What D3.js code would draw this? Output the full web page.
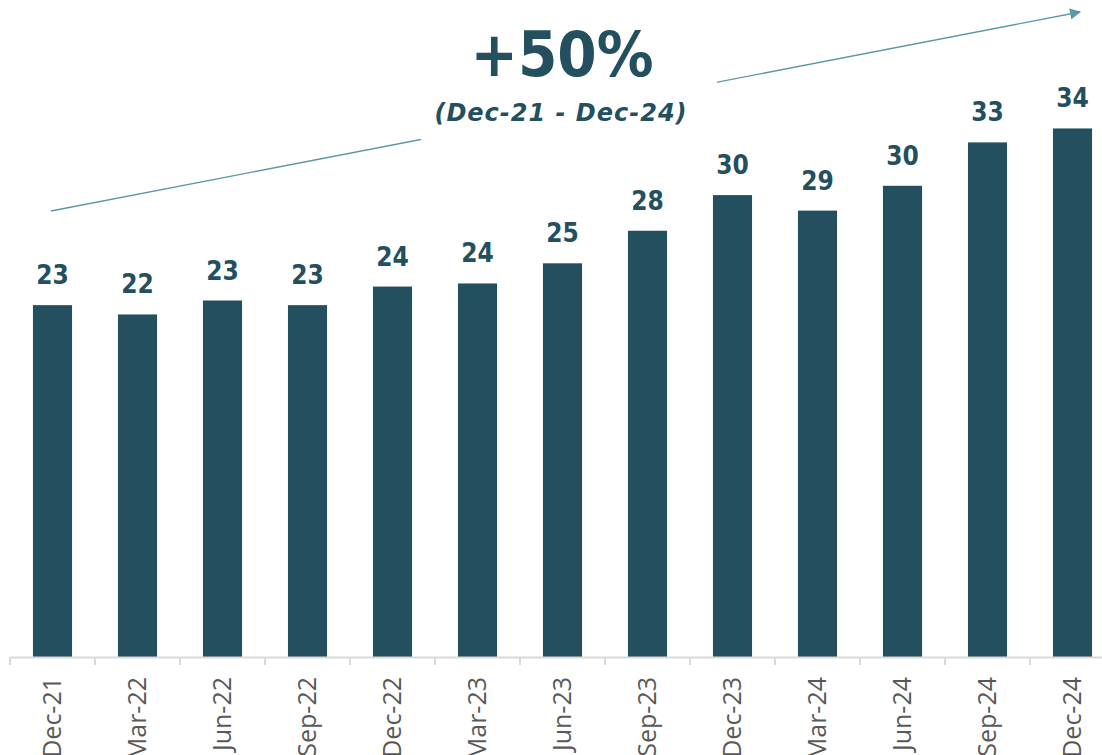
<!DOCTYPE html>
<html>
<head>
<meta charset="utf-8">
<script src="https://cdn.jsdelivr.net/npm/d3@7"></script>
<style>
  body { margin: 0; background: #fff; overflow: hidden; }
  .val { font-family: "DejaVu Sans Condensed", "DejaVu Sans", sans-serif; font-stretch: condensed; font-weight: bold; fill: #234F5E; }
  .sub { font-family: "DejaVu Sans", sans-serif; font-weight: bold; font-style: italic; fill: #234F5E; }
  .tick text { font-family: "Open Sans", sans-serif; fill: #595959; }
</style>
</head>
<body>
<div id="chart"></div>
<script>
// quarterly values
var quarters = ["Dec-21","Mar-22","Jun-22","Sep-22","Dec-22","Mar-23","Jun-23","Sep-23","Dec-23","Mar-24","Jun-24","Sep-24","Dec-24"];
var values = [22.7, 22.1, 23.0, 22.7, 23.9, 24.1, 25.4, 27.5, 29.8, 28.8, 30.4, 33.2, 34.1];
var growthLabel = "+50%";
var periodLabel = "(Dec-21 - Dec-24)";

var W = 1102, H = 755;
var baseY = 657;

var svg = d3.select("#chart").append("svg")
  .attr("width", W)
  .attr("height", H);

var x = d3.scaleBand()
  .domain(quarters)
  .range([10, 1115])
  .paddingInner(0.54)
  .paddingOuter(0.27);

var y = d3.scaleLinear()
  .domain([0, 40])
  .range([baseY, 37]);

// growth arrow (drawn first, text box hides its middle)
svg.append("defs").append("marker")
  .attr("id", "arrow")
  .attr("viewBox", "0 0 10 10")
  .attr("refX", 9).attr("refY", 5)
  .attr("markerWidth", 12).attr("markerHeight", 11)
  .attr("markerUnits", "userSpaceOnUse")
  .attr("orient", "auto")
  .append("path")
  .attr("d", "M0,0 L10,5 L0,10 Z")
  .attr("fill", "#5B97A8");

svg.append("line")
  .attr("x1", 51).attr("y1", 211)
  .attr("x2", 1080).attr("y2", 12)
  .attr("stroke", "#5B97A8")
  .attr("stroke-width", 1.3)
  .attr("marker-end", "url(#arrow)");

svg.append("rect")
  .attr("x", 421).attr("y", 18)
  .attr("width", 296).attr("height", 122)
  .attr("fill", "#fff");

svg.append("text")
  .attr("class", "val")
  .attr("x", 562).attr("y", 76)
  .attr("text-anchor", "middle")
  .style("font-size", "63px")
  .text(growthLabel);

svg.append("text")
  .attr("class", "sub")
  .attr("x", 561).attr("y", 121)
  .attr("text-anchor", "middle")
  .style("font-size", "24px")
  .style("letter-spacing", "1px")
  .text(periodLabel);

// bars
svg.selectAll("rect.bar")
  .data(values)
  .enter().append("rect")
  .attr("class", "bar")
  .attr("x", function(d, i) { return x(quarters[i]); })
  .attr("y", function(d) { return y(d); })
  .attr("width", x.bandwidth())
  .attr("height", function(d) { return baseY - y(d); })
  .attr("fill", "#234F5E");

svg.selectAll("text.lbl")
  .data(values)
  .enter().append("text")
  .attr("class", "val lbl")
  .attr("x", function(d, i) { return x(quarters[i]) + x.bandwidth() / 2; })
  .attr("y", function(d) { return y(d) - 21; })
  .attr("text-anchor", "middle")
  .style("font-size", "26px")
  .text(function(d) { return d3.format(".0f")(d); });

// x axis: labels from d3 axis, ticks at category boundaries
var gx = svg.append("g")
  .attr("transform", "translate(0," + baseY + ")")
  .call(d3.axisBottom(x).tickSize(0));

gx.select(".domain")
  .attr("stroke", "#D9D9D9")
  .attr("stroke-width", 2);

gx.selectAll(".tick text")
  .style("font-size", "25px")
  .attr("text-anchor", "end")
  .attr("transform", "rotate(-90)")
  .attr("x", -20)
  .attr("y", 0)
  .attr("dy", "0.35em")
  .attr("dx", 0);

var step = x.step();
gx.selectAll("line.sep")
  .data(d3.range(quarters.length + 1))
  .enter().append("line")
  .attr("class", "sep")
  .attr("x1", function(i) { return 10 + i * step; })
  .attr("x2", function(i) { return 10 + i * step; })
  .attr("y1", 0).attr("y2", 8)
  .attr("stroke", "#D9D9D9")
  .attr("stroke-width", 2);
</script>
</body>
</html>
